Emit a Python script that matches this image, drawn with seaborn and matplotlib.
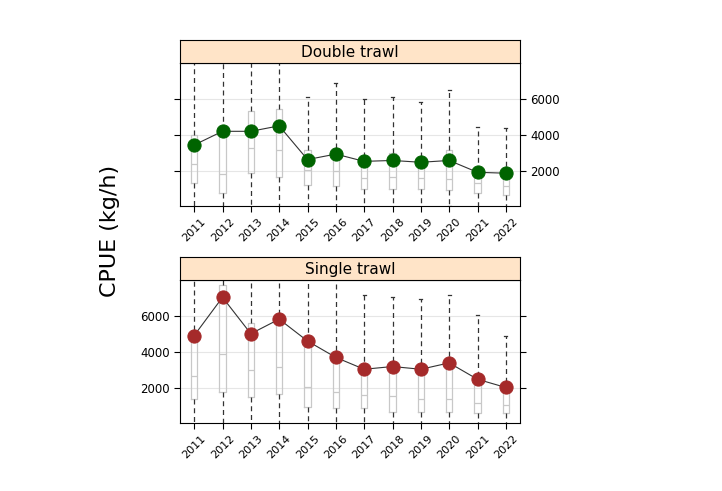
import matplotlib
matplotlib.use("Agg")
import matplotlib.pyplot as plt
import seaborn as sns
import pandas as pd

years = [str(y) for y in range(2011, 2023)]
# Double trawl
dbl_mean = [3450, 4200, 4200, 4500, 2650, 2950, 2550, 2600, 2500, 2600, 1950, 1900]
dbl_q1 = [1350, 800, 1900, 1700, 1250, 1200, 1050, 1050, 1050, 1000, 800, 700]
dbl_med = [2400, 1850, 3300, 3200, 2100, 2000, 1650, 1700, 1650, 1600, 1350, 1200]
dbl_q3 = [4000, 4250, 5300, 5450, 3200, 3300, 2800, 3000, 2800, 3200, 2000, 1800]
dbl_hi = [9000, 9000, 9000, 9000, 6100, 6850, 6000, 6100, 5800, 6450, 4450, 4400]
dbl_lo = [0, 0, 0, 0, 0, 0, 0, 0, 0, 100, 0, 0]
# Single trawl
sgl_mean = [4900, 7000, 5000, 5800, 4600, 3700, 3050, 3200, 3050, 3400, 2500, 2050]
sgl_q1 = [1400, 1800, 1550, 1700, 1000, 900, 900, 700, 700, 700, 650, 650]
sgl_med = [2700, 3900, 3000, 3150, 2100, 1800, 1650, 1600, 1400, 1400, 1200, 1100]
sgl_q3 = [5200, 7700, 5600, 5600, 4600, 3600, 3000, 3000, 2900, 3300, 2200, 1850]
sgl_hi = [9000, 9000, 9000, 9000, 9000, 9000, 7100, 7000, 6900, 7100, 6050, 4850]
sgl_lo = [0, 0, 0, 0, 0, 0, 0, 0, 0, 0, 0, 0]

panels = [
    ("Double trawl", dbl_mean, dbl_q1, dbl_med, dbl_q3, dbl_hi, dbl_lo, "#006400", "right"),
    ("Single trawl", sgl_mean, sgl_q1, sgl_med, sgl_q3, sgl_hi, sgl_lo, "#a52a2a", "left"),
]

fig = plt.figure(figsize=(7.22, 4.91), dpi=100)
L, W, H, SH = 180/722, 340/722, 143/491, 23/491
bottoms = [1-206/491, 1-423/491]

for (title, mean, q1, med, q3, hi, lo, col, side), b in zip(panels, bottoms):
    ax = fig.add_axes([L, b, W, H])
    stats = [dict(med=m, q1=a, q3=c, whislo=l, whishi=h, fliers=[])
             for m, a, c, l, h in zip(med, q1, q3, lo, hi)]
    ax.bxp(stats, positions=range(len(years)), widths=0.22, showfliers=False,
           boxprops=dict(color="#c8c8c8", lw=0.9),
           medianprops=dict(color="#c8c8c8", lw=0.9),
           whiskerprops=dict(color="#333333", lw=0.9, ls=(0, (4, 3))),
           capprops=dict(color="#333333", lw=0.9), zorder=2)
    df = pd.DataFrame({"x": range(len(years)), "y": mean})
    sns.lineplot(data=df, x="x", y="y", ax=ax, color="#333333", lw=0.8, zorder=3)
    sns.scatterplot(data=df, x="x", y="y", ax=ax, color=col, s=90, edgecolor=col, zorder=4)
    ax.set_xlim(-0.5, 11.5)
    ax.set_ylim(100, 7950)
    ax.set_yticks([2000, 4000, 6000])
    ax.yaxis.grid(True, color="#e6e6e6", lw=0.8)
    ax.set_axisbelow(True)
    ax.set_xticks(range(len(years)))
    ax.set_xticklabels(years, rotation=45, fontsize=8)
    ax.tick_params(axis="both", direction="out", labelsize=8.5, length=4)
    ax.tick_params(axis="x", labelsize=8)
    ax.tick_params(axis="y", left=True, right=True,
                   labelleft=(side == "left"), labelright=(side == "right"))
    ax.set_xlabel(""); ax.set_ylabel("")
    for s in ax.spines.values():
        s.set_color("black"); s.set_linewidth(0.8)
    sax = fig.add_axes([L, b+H, W, SH])
    sax.set_facecolor("#ffe4c8")
    sax.set_xticks([]); sax.set_yticks([])
    for s in sax.spines.values():
        s.set_linewidth(0.8)
    sax.text(0.5, 0.45, title, ha="center", va="center", fontsize=11, transform=sax.transAxes)

fig.text(110/722, 0.53, "CPUE (kg/h)", rotation=90, ha="center", va="center", fontsize=16)
fig.savefig("out.png", dpi=100)
